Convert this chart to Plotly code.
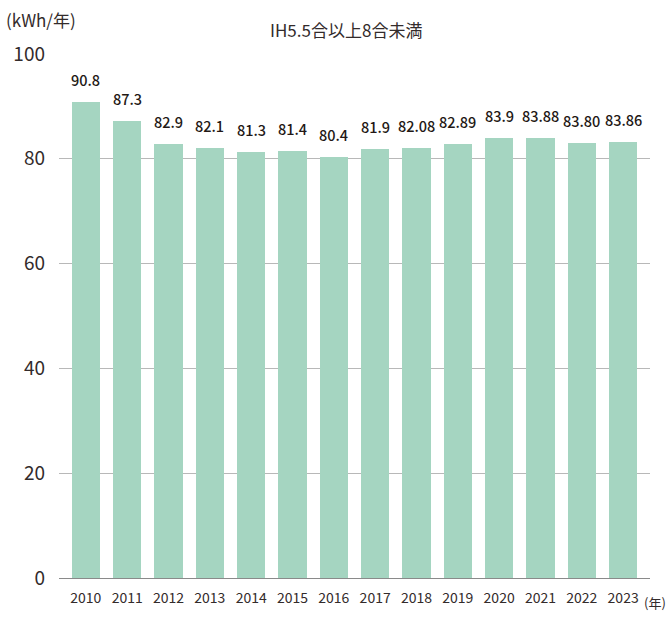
import plotly.graph_objects as go

years = ["2010", "2011", "2012", "2013", "2014", "2015", "2016",
         "2017", "2018", "2019", "2020", "2021", "2022", "2023"]
values = [90.8, 87.3, 82.9, 82.1, 81.3, 81.4, 80.4,
          81.9, 82.08, 82.89, 83.9, 83.88, 83.1, 83.3]
labels = ["90.8", "87.3", "82.9", "82.1", "81.3", "81.4", "80.4",
          "81.9", "82.08", "82.89", "83.9", "83.88", "83.80", "83.86"]
y_ticks = [0, 20, 40, 60, 80, 100]

TXT = "#332b2b"
LBL = "#231815"
FONT = "Noto Sans CJK JP"

fig = go.Figure()
fig.add_trace(go.Bar(
    x=list(range(len(years))), y=values, width=0.68,
    marker=dict(color="#a5d5c1", line=dict(width=0)),
    hoverinfo="skip",
))

for i, (v, lab) in enumerate(zip(values, labels)):
    fig.add_annotation(x=i, y=v, text=lab, showarrow=False,
                       xref="x", yref="y",
                       yanchor="bottom", yshift=10,
                       font=dict(family=FONT, size=14.5, color=LBL, weight=500))

fig.add_annotation(xref="paper", yref="paper", x=0, xshift=-55, y=1.0, yshift=20,
                   xanchor="left", yanchor="bottom", text="(kWh/年)",
                   showarrow=False, font=dict(family=FONT, size=17, color=TXT))
fig.add_annotation(xref="paper", yref="paper", x=0.485, y=1.0, yshift=10,
                   xanchor="center", yanchor="bottom", text="IH5.5合以上8合未満",
                   showarrow=False, font=dict(family=FONT, size=17, color=TXT))
fig.add_annotation(xref="paper", yref="paper", x=1.0, y=0, yshift=-24, xshift=18,
                   xanchor="right", yanchor="middle", text="(年)",
                   showarrow=False, font=dict(family=FONT, size=13, color=TXT))

fig.update_layout(
    width=669, height=619,
    margin=dict(l=59, r=19, t=54, b=39),
    paper_bgcolor="white", plot_bgcolor="white",
    showlegend=False,
    bargap=0,
    xaxis=dict(range=[-0.65, 13.65], showgrid=False, zeroline=False,
               tickvals=list(range(len(years))), ticktext=years,
               showline=True, linecolor="#8a8a8a", linewidth=1.3,
               ticks="", tickfont=dict(family=FONT, size=14, color=TXT),
               ticklabelstandoff=7),
    yaxis=dict(range=[0, 100], tickvals=y_ticks, showgrid=True,
               gridcolor="#b8b8b8", gridwidth=1, zeroline=False,
               showline=False, ticks="",
               tickfont=dict(family=FONT, size=19, color=TXT),
               ticklabelstandoff=13),
)

fig.write_html("out.html",
               config={"displayModeBar": False},
               post_script="document.body.style.margin='0';document.body.style.overflow='hidden';")
